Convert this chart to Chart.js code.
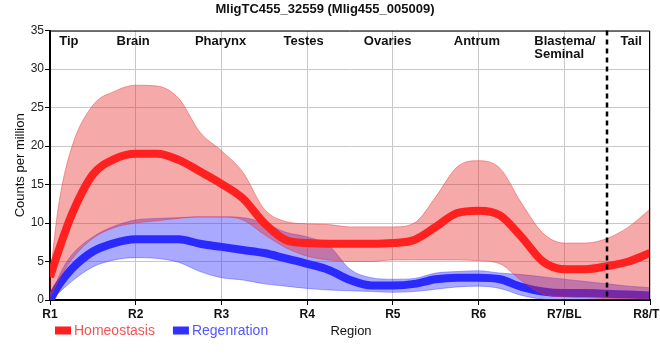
<!DOCTYPE html>
<html>
<head>
<meta charset="utf-8">
<script src="https://cdn.jsdelivr.net/npm/chart.js@4.4.1/dist/chart.umd.min.js"></script>
<style>
  body { margin: 0; background: #fff; }
  #wrap { width: 660px; height: 360px; }
</style>
</head>
<body>
<div id="wrap"><canvas id="myChart" width="660" height="360"></canvas></div>
<script>
// region positions along the body (x values)
var xs = [1, 1.1, 1.25, 1.5, 1.75, 2, 2.25, 2.5, 2.75, 3, 3.25, 3.5, 3.75, 4, 4.25, 4.5, 4.75,
          5, 5.25, 5.5, 5.75, 6, 6.25, 6.5, 6.75, 7, 7.25, 7.5, 7.75, 8];
var tickLabels = ["R1", "R2", "R3", "R4", "R5", "R6", "R7/BL", "R8/TL"];
var regionNames = ["Tip", "Brain", "Pharynx", "Testes", "Ovaries", "Antrum", "Blastema/\nSeminal", "Tail"];

var homMean  = [3.0, 6.4, 11.0, 16.3, 18.3, 19.0, 19.0, 18.2, 16.7, 15.1, 13.2, 10.0, 7.8, 7.4, 7.3, 7.3, 7.3,
                7.4, 7.8, 9.5, 11.3, 11.6, 11.0, 8.2, 5.0, 4.0, 4.0, 4.4, 5.0, 6.1];
var homUpper = [3.0, 12.3, 19.7, 25.3, 27.1, 27.9, 27.8, 26.2, 21.8, 19.4, 16.6, 11.8, 10.2, 9.9, 9.8, 9.5, 9.5,
                9.5, 10.0, 13.4, 17.3, 18.1, 17.1, 12.6, 8.7, 7.4, 7.4, 8.0, 9.5, 11.8];
var homLower = [0.3, 2.5, 5.2, 8.0, 9.4, 10.0, 10.3, 10.6, 10.8, 10.8, 10.4, 8.5, 6.8, 5.7, 5.2, 5.0, 5.0,
                5.2, 5.2, 5.2, 5.2, 5.1, 4.7, 2.5, 0.8, 0.4, 0.3, 0.2, 0.2, 0.2];

var regMean  = [0.0, 1.9, 4.0, 6.3, 7.4, 7.9, 7.9, 7.9, 7.3, 6.9, 6.5, 6.1, 5.4, 4.7, 3.9, 2.6, 1.9,
                1.9, 2.1, 2.7, 2.9, 2.9, 2.7, 1.7, 1.1, 0.9, 0.9, 0.8, 0.7, 0.6];
var regUpper = [0.0, 3.0, 5.8, 8.2, 9.6, 10.4, 10.6, 10.7, 10.8, 10.8, 10.7, 10.0, 8.8, 8.2, 7.1, 4.0, 2.9,
                2.7, 2.8, 3.5, 3.7, 3.8, 3.5, 3.3, 3.0, 2.7, 2.4, 2.1, 1.8, 1.6];
var regLower = [0.0, 0.9, 2.4, 4.3, 5.2, 5.5, 5.4, 4.9, 3.7, 2.9, 2.6, 2.1, 1.8, 1.5, 1.3, 1.2, 1.1,
                1.0, 1.1, 1.4, 1.7, 1.8, 1.5, 0.6, 0.1, 0.0, 0.0, 0.0, 0.0, 0.0];

function pts(arr) {
  return xs.map(function (x, i) { return { x: x, y: arr[i] }; });
}

var FONT = "'Liberation Sans', Arial, sans-serif";

// region names above the curves + dashed line at R7.5 + bottom legend
var decorations = {
  id: 'decorations',
  afterDraw: function (chart) {
    var c = chart.ctx, xsc = chart.scales.x, area = chart.chartArea;
    c.save();
    // border: thin on top/right, thick on left/bottom
    c.strokeStyle = '#000';
    c.lineWidth = 1;
    c.beginPath();
    c.moveTo(area.left, area.top + 0.5);
    c.lineTo(area.right - 0.5, area.top + 0.5);
    c.lineTo(area.right - 0.5, area.bottom);
    c.stroke();

    // dashed separator
    var dx = Math.round(xsc.getPixelForValue(7.5));
    c.setLineDash([5, 4]);
    c.lineWidth = 2.5;
    c.beginPath();
    c.moveTo(dx, area.top);
    c.lineTo(dx, area.bottom);
    c.stroke();
    c.setLineDash([]);

    // region names
    var anchors = [1.22, 1.97, 2.99, 3.96, 4.94, 5.98, 6.65, 7.78];
    c.font = 'bold 13px ' + FONT;
    c.fillStyle = '#111';
    c.textBaseline = 'alphabetic';
    regionNames.forEach(function (name, i) {
      var px = xsc.getPixelForValue(anchors[i]);
      var lines = name.split('\n');
      c.textAlign = lines.length > 1 ? 'left' : 'center';
      lines.forEach(function (ln, j) {
        c.fillText(ln, px, 45 + j * 13);
      });
    });

    // legend
    var items = [
      { text: chart.data.datasets[0].label, box: '#ff2020', color: '#f25555' },
      { text: chart.data.datasets[3].label, box: '#3030ff', color: '#5555ff' }
    ];
    c.font = '14px ' + FONT;
    c.textAlign = 'left';
    c.textBaseline = 'middle';
    var lx = 55;
    items.forEach(function (it) {
      c.fillStyle = it.box;
      c.fillRect(lx, 326.5, 16, 8);
      c.fillStyle = it.color;
      c.fillText(it.text, lx + 19, 331);
      lx += 19 + c.measureText(it.text).width + 18;
    });

    // x axis title
    c.font = '13px ' + FONT;
    c.fillStyle = '#111';
    c.textAlign = 'center';
    c.fillText('Region', 351, 331);
    c.restore();
  }
};

var ctx = document.getElementById('myChart');
var chart = new Chart(ctx, {
  type: 'line',
  data: {
    datasets: [
      {
        label: 'Homeostasis',
        data: pts(homMean),
        borderColor: '#ff2020',
        borderWidth: 8,
        pointRadius: 0,
        fill: false,
        cubicInterpolationMode: 'monotone'
      },
      {
        label: 'hom upper',
        data: pts(homUpper),
        borderColor: 'rgba(230,60,60,0.45)',
        borderWidth: 1,
        backgroundColor: 'rgba(230,40,40,0.4)',
        pointRadius: 0,
        fill: '+1',
        cubicInterpolationMode: 'monotone'
      },
      {
        label: 'hom lower',
        data: pts(homLower),
        borderColor: 'rgba(230,60,60,0.45)',
        borderWidth: 1,
        pointRadius: 0,
        fill: false,
        cubicInterpolationMode: 'monotone'
      },
      {
        label: 'Regenration',
        data: pts(regMean),
        borderColor: '#2a2aff',
        borderWidth: 8,
        pointRadius: 0,
        fill: false,
        cubicInterpolationMode: 'monotone'
      },
      {
        label: 'reg upper',
        data: pts(regUpper),
        borderColor: 'rgba(60,60,255,0.4)',
        borderWidth: 1,
        backgroundColor: 'rgba(40,40,255,0.4)',
        pointRadius: 0,
        fill: '+1',
        cubicInterpolationMode: 'monotone'
      },
      {
        label: 'reg lower',
        data: pts(regLower),
        borderColor: 'rgba(60,60,255,0.4)',
        borderWidth: 1,
        pointRadius: 0,
        fill: false,
        cubicInterpolationMode: 'monotone'
      }
    ]
  },
  options: {
    responsive: false,
    animation: false,
    layout: { padding: { left: 0, right: 10, top: 0, bottom: 38 } },
    plugins: {
      legend: { display: false },
      tooltip: { enabled: false },
      title: {
        display: true,
        text: 'MligTC455_32559 (Mlig455_005009)',
        color: '#111',
        font: { family: FONT, size: 13, weight: 'bold' },
        padding: { top: 2, bottom: 13 }
      }
    },
    scales: {
      x: {
        type: 'linear',
        min: 1,
        max: 8,
        afterFit: function (s) { s.paddingRight = 0; s.paddingLeft = 0; s.height = 22; },
        ticks: {
          stepSize: 1,
          autoSkip: false,
          maxRotation: 0,
          padding: 2,
          color: '#111',
          font: { family: FONT, size: 12, weight: 'bold' },
          callback: function (v) { return tickLabels[v - 1]; }
        },
        grid: { color: '#c8c8c8', tickColor: '#000', tickLength: 5 },
        border: { color: '#000', width: 2 }
      },
      y: {
        min: 0,
        max: 35,
        afterFit: function (s) { s.width = 50; },
        ticks: {
          stepSize: 5,
          padding: 1,
          color: '#222',
          font: { family: FONT, size: 12 }
        },
        grid: { color: '#c8c8c8', tickColor: '#000', tickLength: 5 },
        border: { color: '#000', width: 2 },
        title: {
          display: true,
          text: 'Counts per million',
          color: '#111',
          font: { family: FONT, size: 13 },
          padding: { top: 13, bottom: 0 }
        }
      }
    }
  },
  plugins: [decorations]
});
</script>
</body>
</html>
